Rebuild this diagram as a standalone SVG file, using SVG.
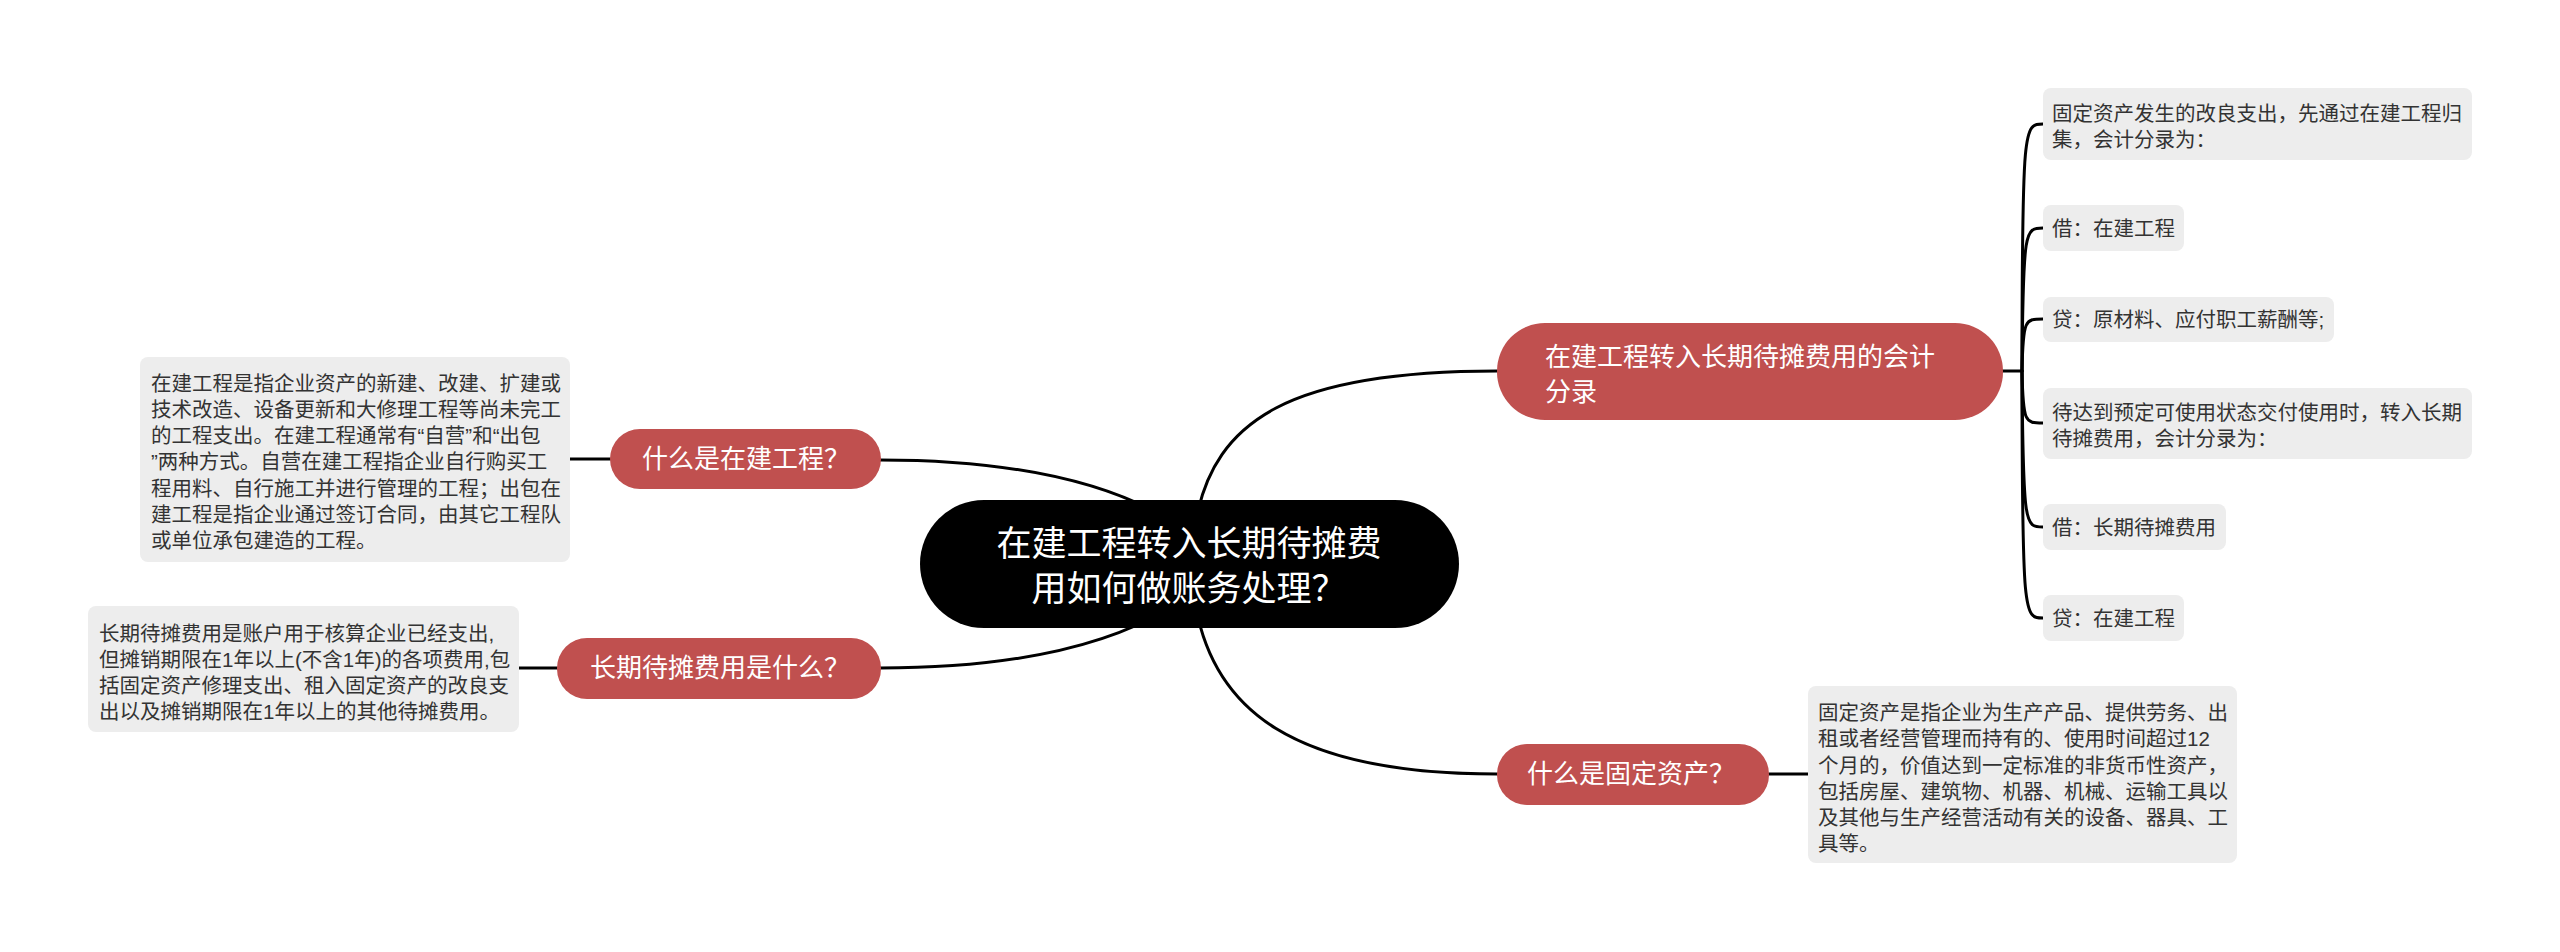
<svg xmlns="http://www.w3.org/2000/svg" width="2560" height="952" viewBox="0 0 2560 952">
<style>
text{font-family:"Liberation Sans","Noto Sans CJK SC",sans-serif;dominant-baseline:central}
.conn{fill:none;stroke:#000;stroke-width:3;stroke-linecap:round}
.root{fill:#000}
.rootT{fill:#fff;font-size:35px;text-anchor:middle}
.main{fill:#c0504f}
.mainT{fill:#fff;font-size:26px}
.det{fill:#ededed}
.detT{fill:#333;font-size:20.5px}
</style>
<rect width="2560" height="952" fill="#fff"/>
<g id="connectors">
<path class="conn" d="M1196,520 C1215,420 1290,371 1497,371"/>
<path class="conn" d="M1196,608 C1215,708 1290,774 1497,774"/>
<path class="conn" d="M880,460 C1000,460 1100,478 1170,520"/>
<path class="conn" d="M880,668 C1000,668 1100,650 1170,608"/>
<path class="conn" d="M570,459 L610,459"/>
<path class="conn" d="M519,668 L557,668"/>
<path class="conn" d="M1769,774 L1808,774"/>
<path class="conn" d="M2002,371 L2022,371"/>
<path class="conn" d="M2022,371 C2022,124 2024,124 2043,124"/>
<path class="conn" d="M2022,371 C2023,228 2025,228 2043,228"/>
<path class="conn" d="M2022,371 C2023,319 2025,319 2043,319"/>
<path class="conn" d="M2022,371 C2023,423 2025,423 2043,423"/>
<path class="conn" d="M2022,371 C2023,527 2025,527 2043,527"/>
<path class="conn" d="M2022,371 C2022,618 2024,618 2043,618"/>
</g>
<g id="root">
<rect class="root" x="920" y="500" width="539" height="128" rx="64"/>
<text class="rootT" x="1189" y="543">在建工程转入长期待摊费</text>
<text class="rootT" x="1189" y="588">用如何做账务处理？</text>
</g>
<g id="n-zaijian">
<rect class="main" x="610" y="429" width="271" height="60" rx="30"/>
<text class="mainT" x="642" y="459">什么是在建工程？</text>
</g>
<g id="d-zaijian">
<rect class="det" x="140" y="357" width="430" height="205" rx="8"/>
<text class="detT" x="151" y="383">在建工程是指企业资产的新建、改建、扩建或</text>
<text class="detT" x="151" y="409">技术改造、设备更新和大修理工程等尚未完工</text>
<text class="detT" x="151" y="435">的工程支出。在建工程通常有“自营”和“出包</text>
<text class="detT" x="151" y="461">”两种方式。自营在建工程指企业自行购买工</text>
<text class="detT" x="151" y="488">程用料、自行施工并进行管理的工程；出包在</text>
<text class="detT" x="151" y="514">建工程是指企业通过签订合同，由其它工程队</text>
<text class="detT" x="151" y="540">或单位承包建造的工程。</text>
</g>
<g id="n-changqi">
<rect class="main" x="557" y="638" width="324" height="61" rx="30"/>
<text class="mainT" x="590" y="668">长期待摊费用是什么？</text>
</g>
<g id="d-changqi">
<rect class="det" x="88" y="606" width="431" height="126" rx="8"/>
<text class="detT" x="99" y="633">长期待摊费用是账户用于核算企业已经支出,</text>
<text class="detT" x="99" y="659">但摊销期限在1年以上(不含1年)的各项费用,包</text>
<text class="detT" x="99" y="685">括固定资产修理支出、租入固定资产的改良支</text>
<text class="detT" x="99" y="711">出以及摊销期限在1年以上的其他待摊费用。</text>
</g>
<g id="n-fenlu">
<rect class="main" x="1497" y="323" width="506" height="97" rx="48"/>
<text class="mainT" x="1545" y="357">在建工程转入长期待摊费用的会计</text>
<text class="mainT" x="1545" y="392">分录</text>
</g>
<g id="d-fenlu-1">
<rect class="det" x="2043" y="88" width="429" height="72" rx="8"/>
<text class="detT" x="2052" y="113">固定资产发生的改良支出，先通过在建工程归</text>
<text class="detT" x="2052" y="139">集，会计分录为：</text>
</g>
<g id="d-fenlu-2">
<rect class="det" x="2043" y="205" width="141" height="46" rx="8"/>
<text class="detT" x="2052" y="228">借：在建工程</text>
</g>
<g id="d-fenlu-3">
<rect class="det" x="2043" y="297" width="291" height="45" rx="8"/>
<text class="detT" x="2052" y="319">贷：原材料、应付职工薪酬等;</text>
</g>
<g id="d-fenlu-4">
<rect class="det" x="2043" y="388" width="429" height="71" rx="8"/>
<text class="detT" x="2052" y="412">待达到预定可使用状态交付使用时，转入长期</text>
<text class="detT" x="2052" y="438">待摊费用，会计分录为：</text>
</g>
<g id="d-fenlu-5">
<rect class="det" x="2043" y="504" width="183" height="46" rx="8"/>
<text class="detT" x="2052" y="527">借：长期待摊费用</text>
</g>
<g id="d-fenlu-6">
<rect class="det" x="2043" y="595" width="141" height="46" rx="8"/>
<text class="detT" x="2052" y="618">贷：在建工程</text>
</g>
<g id="n-guding">
<rect class="main" x="1497" y="744" width="272" height="61" rx="30"/>
<text class="mainT" x="1527" y="774">什么是固定资产？</text>
</g>
<g id="d-guding">
<rect class="det" x="1808" y="686" width="429" height="177" rx="8"/>
<text class="detT" x="1818" y="712">固定资产是指企业为生产产品、提供劳务、出</text>
<text class="detT" x="1818" y="738">租或者经营管理而持有的、使用时间超过12</text>
<text class="detT" x="1818" y="765">个月的，价值达到一定标准的非货币性资产，</text>
<text class="detT" x="1818" y="791">包括房屋、建筑物、机器、机械、运输工具以</text>
<text class="detT" x="1818" y="817">及其他与生产经营活动有关的设备、器具、工</text>
<text class="detT" x="1818" y="843">具等。</text>
</g>
</svg>
